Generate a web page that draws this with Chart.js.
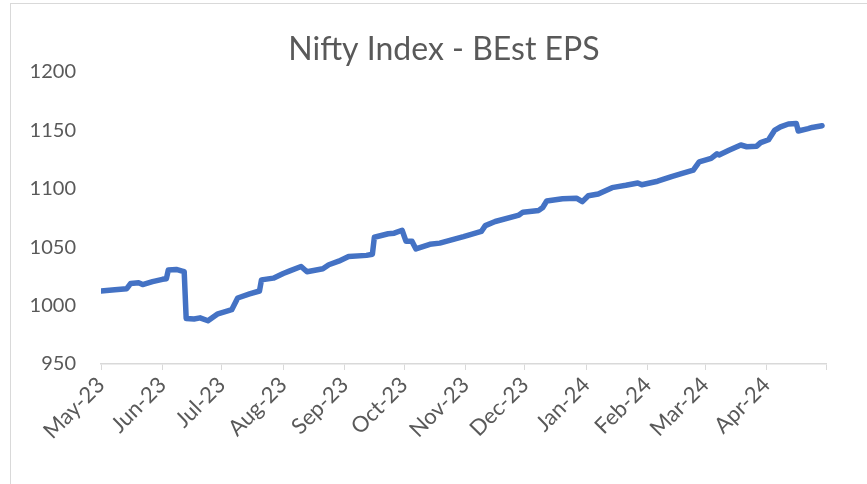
<!DOCTYPE html>
<html>
<head>
<meta charset="utf-8">
<script src="https://cdn.jsdelivr.net/npm/chart.js@4"></script>
<style>
  html, body { margin: 0; padding: 0; background: #fff; overflow: hidden; }
  #frame { position: absolute; left: 10px; top: 3px; width: 880px; height: 520px; border: 1px solid #d9d9d9; }
  #wrap { position: absolute; left: 0; top: 0; width: 867px; height: 484px; }
</style>
</head>
<body>
<div id="frame"></div>
<div id="wrap"><canvas id="epsChart"></canvas></div>
<script>
const dates = [
    '2023-05-01', '2023-05-08', '2023-05-14', '2023-05-16', '2023-05-20', '2023-05-22', '2023-05-27',
    '2023-06-01', '2023-06-03', '2023-06-04', '2023-06-08', '2023-06-11', '2023-06-12', '2023-06-13',
    '2023-06-17', '2023-06-20', '2023-06-24', '2023-06-29', '2023-07-04', '2023-07-06', '2023-07-09',
    '2023-07-15', '2023-07-20', '2023-07-21', '2023-07-27', '2023-08-01', '2023-08-04', '2023-08-10',
    '2023-08-13', '2023-08-21', '2023-08-24', '2023-08-29', '2023-09-03', '2023-09-12', '2023-09-15',
    '2023-09-16', '2023-09-23', '2023-09-26', '2023-09-30', '2023-10-02', '2023-10-05', '2023-10-07',
    '2023-10-14', '2023-10-19', '2023-10-31', '2023-11-09', '2023-11-11', '2023-11-16', '2023-11-28',
    '2023-11-30', '2023-12-08', '2023-12-10', '2023-12-12', '2023-12-20', '2023-12-27', '2023-12-30',
    '2024-01-02', '2024-01-07', '2024-01-14', '2024-01-21', '2024-01-27', '2024-01-29', '2024-02-06',
    '2024-02-13', '2024-02-18', '2024-02-24', '2024-02-27', '2024-03-04', '2024-03-07', '2024-03-08',
    '2024-03-13', '2024-03-19', '2024-03-22', '2024-03-27', '2024-03-29', '2024-04-02', '2024-04-05',
    '2024-04-08', '2024-04-12', '2024-04-16', '2024-04-17', '2024-04-22', '2024-04-24', '2024-04-29'
];
const eps = [
    1012.5, 1013.5, 1014.5, 1019, 1019.5, 1018, 1020.5,
    1022.5, 1023, 1030.5, 1031, 1029.5, 1029, 989,
    988.5, 989.5, 987, 993, 995.5, 996.5, 1006.5,
    1010, 1012.5, 1022, 1023.5, 1027.5, 1029.5, 1033.5,
    1029, 1031.5, 1035, 1038, 1042, 1043, 1044,
    1058.5, 1061.5, 1062, 1064.5, 1055, 1055, 1048.5,
    1052.5, 1053.5, 1059, 1063.5, 1068.5, 1072, 1077.5,
    1080, 1081.5, 1084, 1089.5, 1091.5, 1092, 1089,
    1094, 1095.5, 1101, 1103, 1105, 1103.5, 1106.5,
    1110.5, 1113, 1116, 1123, 1126, 1130, 1129,
    1133, 1137.5, 1136, 1136.5, 1139.5, 1142, 1150,
    1153, 1155.5, 1156, 1149.5, 1151.5, 1152.5, 1154
];
const tickDates = [
    '2023-05-01', '2023-06-01', '2023-07-01', '2023-08-01', '2023-09-01', '2023-10-01', '2023-11-01',
    '2023-12-01', '2024-01-01', '2024-02-01', '2024-03-01', '2024-04-01', '2024-05-01'
];
const tickLabels = [
    'May-23', 'Jun-23', 'Jul-23', 'Aug-23', 'Sep-23', 'Oct-23', 'Nov-23',
    'Dec-23', 'Jan-24', 'Feb-24', 'Mar-24', 'Apr-24', ''
];
const chartTitle = 'Nifty Index - BEst EPS';

// days since start, so the x axis is a plain linear scale
const start = Date.parse(tickDates[0]);
const toDay = d => (Date.parse(d) - start) / 86400000;
const tickDays = tickDates.map(toDay);

const textColor = '#595959';
const lineGrey = '#d9d9d9';

// Excel centres the title on the whole chart frame, not the plot area
const frameTitle = {
    id: 'frameTitle',
    afterDraw(chart) {
        const ctx = chart.ctx;
        ctx.save();
        ctx.font = '32px Lato';
        ctx.fillStyle = textColor;
        ctx.textAlign = 'center';
        ctx.textBaseline = 'alphabetic';
        ctx.fillText(chartTitle, 444, 60);
        ctx.restore();
    }
};

new Chart(document.getElementById('epsChart'), {
    type: 'line',
    data: {
        datasets: [{
            label: 'BEst EPS',
            data: dates.map((d, i) => ({ x: toDay(d), y: eps[i] })),
            borderColor: '#4472C4',
            borderWidth: 5.5,
            borderJoinStyle: 'round',
            borderCapStyle: 'round',
            pointRadius: 0,
            tension: 0
        }]
    },
    options: {
        responsive: true,
        maintainAspectRatio: false,
        animation: false,
        layout: { padding: { left: 0, right: 41, top: 72, bottom: 0 } },
        plugins: {
            legend: { display: false },
            tooltip: { enabled: false },
            title: { display: false }
        },
        scales: {
            x: {
                type: 'linear',
                min: tickDays[0],
                max: tickDays[tickDays.length - 1],
                afterBuildTicks: scale => { scale.ticks = tickDays.map(v => ({ value: v })); },
                afterFit: scale => { scale.height = 120; },
                ticks: {
                    autoSkip: false,
                    minRotation: 45,
                    maxRotation: 45,
                    color: textColor,
                    font: { family: 'Lato', size: 22 },
                    padding: 2,
                    callback: value => tickLabels[tickDays.indexOf(value)]
                },
                grid: { drawOnChartArea: false, color: lineGrey, tickLength: 6 },
                border: { display: true, color: lineGrey, width: 1.5 }
            },
            y: {
                min: 950,
                max: 1200,
                afterFit: scale => { scale.width = 101; },
                ticks: {
                    stepSize: 50,
                    color: textColor,
                    font: { family: 'Lato', size: 20 },
                    padding: 17,
                    callback: value => String(value)
                },
                grid: { display: false },
                border: { display: false }
            }
        }
    },
    plugins: [frameTitle]
});
</script>
</body>
</html>
